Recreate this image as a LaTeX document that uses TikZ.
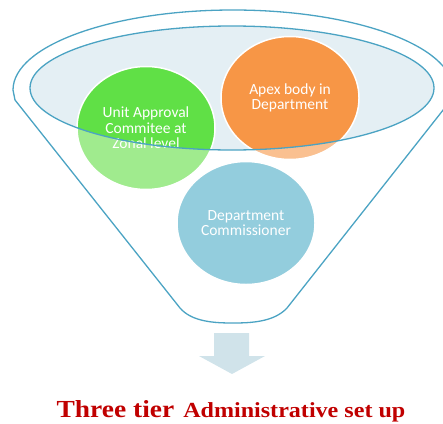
\documentclass[tikz,border=0pt]{standalone}
\usepackage{fontspec}
\setmainfont{Carlito}
\newfontfamily\titlefont[FakeStretch=1.12]{Liberation Serif}
\usetikzlibrary{positioning,shapes.geometric}
\definecolor{funnelblue}{RGB}{75,163,195}
\definecolor{funnelfill}{RGB}{228,239,244}
\definecolor{zonaldark}{RGB}{96,224,70}
\definecolor{zonallight}{RGB}{160,235,142}
\definecolor{apexdark}{RGB}{247,150,70}
\definecolor{apexlight}{RGB}{250,192,144}
\definecolor{commblue}{RGB}{147,205,221}
\definecolor{arrowblue}{RGB}{208,227,234}
\definecolor{titlered}{RGB}{192,0,0}

\tikzset{
  tier/.style={ellipse, draw=white, line width=1.5pt, minimum width=138pt,
    minimum height=123pt, inner sep=0pt, text=white, align=center,
    font=\fontsize{15.5}{15.5}\selectfont},
  rimfill/.style={path picture={\fill[#1] (rim) ellipse [x radius=202pt, y radius=62pt];}}
}

\begin{document}
\begin{tikzpicture}[x=1pt,y=-1pt]
  \clip (0,0) rectangle (443,423);
  \coordinate (rim) at (232,88);

  % funnel
  \draw[funnelblue, line width=1.3pt] (13,90) arc (180:0:220pt and 80pt) -- (451,100) -- (287,308)
    .. controls (274,322) and (251,323) .. (233,323)
    .. controls (215,323) and (192,322) .. (180,308) -- (15,100) -- cycle;
  \fill[funnelfill] (rim) ellipse [x radius=202pt, y radius=62pt];

  \node[tier, fill=zonallight, rimfill=zonaldark] (zonal) at (146,128) {Unit Approval\\Commitee at\\Zonal level};
  \node[tier, fill=apexlight, rimfill=apexdark] (apex) at (290,98) {Apex body in\\Department};
  \node[tier, fill=commblue] (comm) at (246,223) {Department\\Commissioner};

  \draw[funnelblue, line width=1.3pt] (rim) ellipse [x radius=202pt, y radius=62pt];

  % arrow
  \fill[arrowblue] (214,333) -- (249,333) -- (249,356) -- (265,356) -- (232,374) -- (199,356) -- (214,356) -- cycle;

  \node[anchor=base, text=titlered, font=\titlefont\bfseries, inner sep=0pt] (title) at (231,417)
    {{\fontsize{24.5}{26}\selectfont Three tier}\hspace{9pt}{\fontsize{21.5}{24}\selectfont Administrative set up}};
\end{tikzpicture}
\end{document}
